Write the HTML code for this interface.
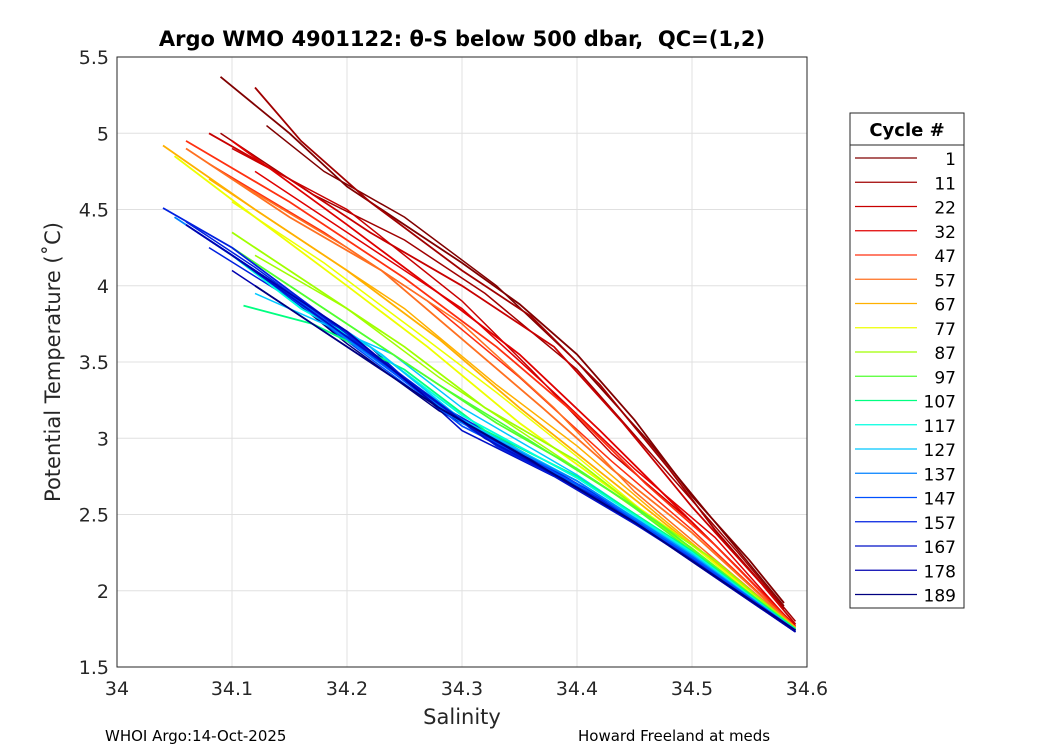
<!DOCTYPE html>
<html><head><meta charset="utf-8"><style>
body{margin:0;background:#fff}
svg{display:block;font-family:"DejaVu Sans","Liberation Sans",sans-serif}
</style></head><body>
<svg id="c" width="1050" height="750"></svg>
<script>
const cycles=["1","11","22","32","47","57","67","77","87","97","107","117","127","137","147","157","167","178","189"];
const colors=["#800000","#a00000","#c80000","#e00000","#ff3010","#ff7020","#ffb000","#eeff00","#a0ff00","#50ff30","#00ff80","#00ffe0","#00c8ff","#0080ff","#0050ff","#0020e0","#0010c8","#0000b0","#000080"];
const profiles=[
[[34.09,5.37],[34.15,5.0],[34.2,4.65],[34.25,4.4],[34.3,4.15],[34.35,3.88],[34.4,3.55],[34.45,3.12],[34.5,2.62],[34.55,2.2],[34.58,1.92]],
[[34.12,5.3],[34.16,4.95],[34.22,4.55],[34.3,4.1],[34.36,3.8],[34.42,3.35],[34.48,2.8],[34.52,2.4],[34.58,1.88]],
[[34.08,5.0],[34.15,4.7],[34.22,4.35],[34.3,4.0],[34.38,3.6],[34.44,3.1],[34.5,2.55],[34.56,2.05],[34.59,1.78]],
[[34.1,4.95],[34.2,4.4],[34.28,3.95],[34.35,3.55],[34.42,3.05],[34.48,2.6],[34.54,2.15],[34.59,1.76]],
[[34.06,4.95],[34.15,4.55],[34.25,4.05],[34.33,3.6],[34.4,3.15],[34.46,2.7],[34.52,2.3],[34.59,1.76]],
[[34.06,4.9],[34.15,4.45],[34.23,4.1],[34.3,3.65],[34.37,3.2],[34.43,2.8],[34.5,2.38],[34.59,1.76]],
[[34.04,4.92],[34.12,4.5],[34.2,4.1],[34.28,3.65],[34.35,3.2],[34.42,2.78],[34.48,2.42],[34.59,1.76]],
[[34.05,4.85],[34.12,4.45],[34.2,4.0],[34.27,3.6],[34.35,3.1],[34.42,2.72],[34.5,2.3],[34.59,1.75]],
[[34.1,4.35],[34.17,4.0],[34.25,3.6],[34.32,3.2],[34.4,2.85],[34.46,2.5],[34.52,2.2],[34.59,1.75]],
[[34.1,4.25],[34.18,3.85],[34.25,3.5],[34.33,3.1],[34.4,2.8],[34.47,2.45],[34.59,1.75]],
[[34.11,3.87],[34.17,3.75],[34.25,3.45],[34.32,3.05],[34.4,2.75],[34.5,2.26],[34.59,1.75]],
[[34.1,4.2],[34.16,3.85],[34.22,3.6],[34.3,3.15],[34.4,2.74],[34.5,2.25],[34.59,1.74]],
[[34.08,4.3],[34.15,3.95],[34.23,3.55],[34.3,3.12],[34.4,2.72],[34.5,2.24],[34.59,1.74]],
[[34.05,4.45],[34.12,4.1],[34.2,3.65],[34.3,3.1],[34.4,2.72],[34.5,2.23],[34.59,1.74]],
[[34.07,4.35],[34.14,4.0],[34.22,3.55],[34.3,3.08],[34.4,2.7],[34.5,2.22],[34.59,1.74]],
[[34.04,4.51],[34.1,4.25],[34.18,3.8],[34.25,3.4],[34.33,2.95],[34.42,2.6],[34.5,2.2],[34.59,1.74]],
[[34.1,4.2],[34.16,3.88],[34.24,3.45],[34.32,3.0],[34.4,2.68],[34.5,2.2],[34.59,1.74]],
[[34.06,4.4],[34.13,4.05],[34.2,3.7],[34.28,3.2],[34.36,2.85],[34.45,2.45],[34.59,1.73]],
[[34.12,4.0],[34.2,3.6],[34.28,3.2],[34.35,2.9],[34.45,2.45],[34.59,1.74]]
];
const extraColorIdx=[0,1,2,3,4,5,6,7,8,9,13,14,15,16,17,18,15,12];
const extraProfiles=[
[[34.13,5.05],[34.18,4.75],[34.25,4.45],[34.33,4.0],[34.4,3.5],[34.46,3.0],[34.52,2.45],[34.58,1.9]],
[[34.09,5.0],[34.17,4.6],[34.25,4.3],[34.32,3.95],[34.4,3.45],[34.47,2.85],[34.54,2.25],[34.59,1.8]],
[[34.1,4.9],[34.2,4.5],[34.3,3.9],[34.36,3.45],[34.43,2.9],[34.5,2.45],[34.59,1.77]],
[[34.12,4.75],[34.22,4.25],[34.3,3.85],[34.38,3.3],[34.45,2.8],[34.52,2.35],[34.59,1.76]],
[[34.08,4.8],[34.18,4.35],[34.27,3.9],[34.35,3.4],[34.43,2.85],[34.5,2.4],[34.59,1.76]],
[[34.1,4.7],[34.2,4.25],[34.3,3.75],[34.38,3.2],[34.45,2.65],[34.59,1.76]],
[[34.08,4.7],[34.17,4.25],[34.25,3.85],[34.33,3.35],[34.4,2.95],[34.47,2.5],[34.59,1.75]],
[[34.1,4.55],[34.18,4.15],[34.26,3.7],[34.33,3.3],[34.4,2.88],[34.48,2.38],[34.59,1.75]],
[[34.12,4.2],[34.2,3.85],[34.28,3.4],[34.35,3.05],[34.42,2.7],[34.5,2.28],[34.59,1.75]],
[[34.13,4.1],[34.2,3.75],[34.28,3.35],[34.36,2.98],[34.44,2.6],[34.59,1.75]],
[[34.09,4.25],[34.16,3.9],[34.24,3.45],[34.32,3.02],[34.4,2.69],[34.5,2.21],[34.59,1.74]],
[[34.11,4.15],[34.18,3.75],[34.26,3.3],[34.34,2.95],[34.42,2.62],[34.5,2.21],[34.59,1.74]],
[[34.06,4.42],[34.12,4.12],[34.2,3.68],[34.28,3.22],[34.36,2.88],[34.45,2.48],[34.59,1.74]],
[[34.08,4.3],[34.15,3.95],[34.22,3.6],[34.3,3.05],[34.38,2.75],[34.47,2.35],[34.59,1.73]],
[[34.1,4.1],[34.18,3.7],[34.26,3.3],[34.34,2.92],[34.42,2.6],[34.5,2.2],[34.59,1.73]],
[[34.13,4.05],[34.2,3.62],[34.28,3.18],[34.36,2.86],[34.44,2.5],[34.59,1.73]],
[[34.08,4.25],[34.15,3.92],[34.23,3.5],[34.31,3.05],[34.4,2.7],[34.5,2.21],[34.59,1.74]],
[[34.12,3.95],[34.18,3.75],[34.24,3.55],[34.3,3.2],[34.4,2.76],[34.5,2.25],[34.59,1.74]]
];
const xTicks=[34,34.1,34.2,34.3,34.4,34.5,34.6];
const yTicks=[1.5,2,2.5,3,3.5,4,4.5,5,5.5];
const X0=117,X1=807,Y0=667,Y1=57;
const sx=v=>X0+(v-34)/(0.6)*(X1-X0);
const sy=v=>Y0-(v-1.5)/4*(Y0-Y1);
const svg=document.getElementById('c');const NS="http://www.w3.org/2000/svg";
function mk(t,a,txt){const e=document.createElementNS(NS,t);for(const k in a)e.setAttribute(k,a[k]);if(txt!==undefined)e.textContent=txt;svg.appendChild(e);return e;}
const pathD=p=>p.map((q,j)=>(j?'L':'M')+sx(q[0]).toFixed(1)+','+sy(q[1]).toFixed(1)).join('');
let e=mk('rect',{x:X0,y:Y1,width:X1-X0,height:Y0-Y1,fill:'#fff'});

xTicks.forEach(t=>{let g=mk('line',{x1:sx(t),x2:sx(t),y1:Y1,y2:Y0,stroke:'#e0e0e0'});

let l=mk('text',{x:sx(t),y:Y0+28,'text-anchor':'middle','font-size':19,fill:'#262626'},String(t));
});
yTicks.forEach(t=>{let g=mk('line',{x1:X0,x2:X1,y1:sy(t),y2:sy(t),stroke:'#e0e0e0'});

let l=mk('text',{x:X0-8,y:sy(t)+7,'text-anchor':'end','font-size':19,fill:'#262626'},String(t));
});
extraProfiles.forEach((p,i)=>{
let l=mk('path',{d:pathD(p),fill:'none',stroke:colors[extraColorIdx[i]],'stroke-width':1.5});
});
profiles.forEach((p,i)=>{
let l=mk('path',{d:pathD(p),fill:'none',stroke:colors[i],'stroke-width':1.8});
});
e=mk('rect',{x:X0,y:Y1,width:X1-X0,height:Y0-Y1,fill:'none',stroke:'#262626'});

e=mk('text',{x:462,y:46,'text-anchor':'middle','font-size':21,'font-weight':'bold',fill:'#000','xml:space':'preserve'},'Argo WMO 4901122: θ-S below 500 dbar,\u00a0\u00a0QC=(1,2)');

e=mk('text',{x:462,y:724,'text-anchor':'middle','font-size':21,fill:'#262626'},'Salinity');

e=mk('text',{x:0,y:0,'text-anchor':'middle','font-size':21,fill:'#262626',transform:'translate(60,362) rotate(-90)'},'Potential Temperature (˚C)');

e=mk('text',{x:105,y:741,'font-size':15,fill:'#000'},'WHOI Argo:14-Oct-2025');

e=mk('text',{x:578,y:741,'font-size':15,fill:'#000'},'Howard Freeland at meds');

e=mk('rect',{x:850,y:113,width:114,height:495,fill:'#fff',stroke:'#262626'});

mk('line',{x1:850,x2:964,y1:145,y2:145,stroke:'#262626'});
e=mk('text',{x:907,y:136,'text-anchor':'middle','font-size':18,'font-weight':'bold',fill:'#000'},'Cycle #');

cycles.forEach((c,i)=>{const y=158+i*24.25;
let l=mk('line',{x1:855,x2:917,y1:y,y2:y,stroke:colors[i],'stroke-width':1.2});

let t=mk('text',{x:956,y:y+7,'text-anchor':'end','font-size':17,fill:'#000'},c);
});
</script>
</body></html>
